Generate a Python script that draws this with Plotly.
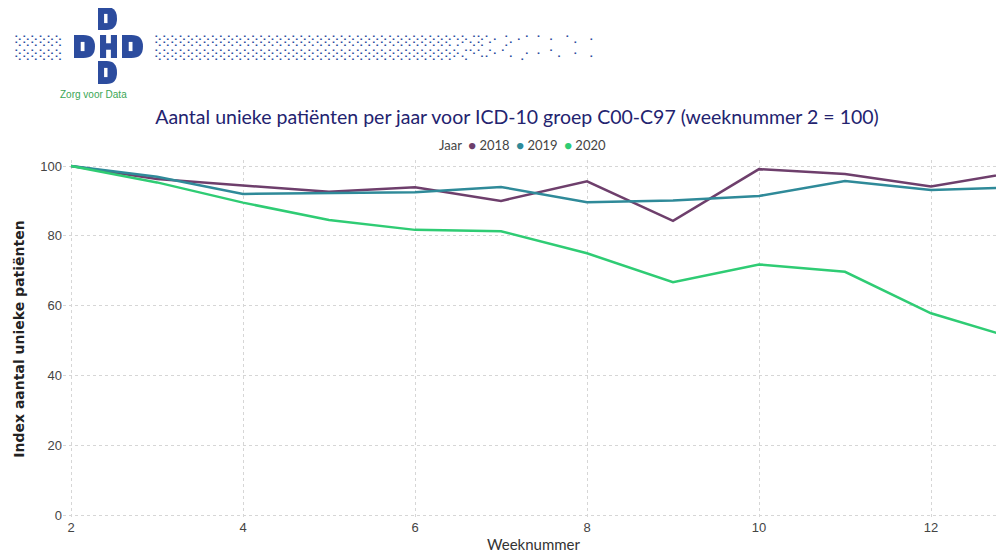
import plotly.graph_objects as go

weeks = [2, 3, 4, 5, 6, 7, 8, 9, 10, 11, 12, 13]
idx_2018 = [100, 96.3, 94.4, 92.6, 93.9, 90.0, 95.6, 84.3, 99.1, 97.7, 94.1, 98.3]
idx_2019 = [100, 96.9, 92.0, 92.2, 92.5, 94.0, 89.6, 90.1, 91.4, 95.7, 93.1, 93.9]
idx_2020 = [100, 95.3, 89.5, 84.5, 81.7, 81.3, 75.0, 66.7, 71.8, 69.7, 57.8, 50.4]
years = ["2018", "2019", "2020"]
colors = ["#6e3f6c", "#2f8a99", "#2fcc74"]
series = [idx_2018, idx_2019, idx_2020]

OFF = 8  # page body margin
W, H = 1004 - OFF, 557 - OFF
# plot area in reference-page pixels
L, R, T, B = 63, 1004, 160, 518

def px(x):
    return (x - L) / (R - L)

def py(y):
    return (B - y) / (B - T)

def P(x, y):
    return "%.5f,%.5f" % (px(x), py(y))

fig = go.Figure()
for yr, col, vals in zip(years, colors, series):
    fig.add_trace(go.Scatter(x=weeks, y=vals, mode="lines", name=yr,
                             line=dict(color=col, width=2.5), showlegend=False))

blue = "#2c4c9e"
shapes = []

def d_shape(x0, y0, w, h):
    path = ("M %s L %s Q %s %s Q %s %s L %s Z" % (
        P(x0, y0), P(x0 + 0.45 * w, y0), P(x0 + w, y0), P(x0 + w, y0 + 0.5 * h),
        P(x0 + w, y0 + h), P(x0 + 0.45 * w, y0 + h), P(x0, y0 + h)))
    shapes.append(dict(type="path", path=path, xref="paper", yref="paper",
                       fillcolor=blue, line=dict(width=0)))
    shapes.append(dict(type="rect", xref="paper", yref="paper",
                       x0=px(x0 + 0.32 * w), x1=px(x0 + 0.5 * w),
                       y0=py(y0 + 0.3 * h), y1=py(y0 + 0.7 * h),
                       fillcolor="white", line=dict(width=0)))

def h_shape(x0, y0, w, h):
    shapes.append(dict(type="rect", xref="paper", yref="paper", x0=px(x0), x1=px(x0 + w),
                       y0=py(y0), y1=py(y0 + h), fillcolor=blue, line=dict(width=0)))
    for a, b in [(y0, y0 + 0.36 * h), (y0 + 0.64 * h, y0 + h)]:
        shapes.append(dict(type="rect", xref="paper", yref="paper",
                           x0=px(x0 + 0.36 * w), x1=px(x0 + 0.64 * w),
                           y0=py(a), y1=py(b), fillcolor="white", line=dict(width=0)))

d_shape(74, 35, 21, 23)
h_shape(100, 35, 17, 23)
d_shape(122, 35, 21, 23)
d_shape(98, 7, 19, 23)
d_shape(98, 61, 19, 23)

ann = []
ann.append(dict(x=px(93), y=py(95), text="Zorg voor Data",
                font=dict(family="Liberation Sans Narrow, Liberation Sans", size=10, color="#3aa655")))
dots_left = "⢕" * 6
dots_right_1 = "⢕" * 37 + "⢑⠕⢌⢕⠡⠂⢈⠄⠂⠁⠈⠀⠂⠀⠁⠄⠀⠂"
dots_right_2 = "⢕" * 37 + "⠕⢌⠑⠡⠌⠂⠁⠄⢀⠂⠐⠀⠁⠄⠀⠂⠀⠄"
ann.append(dict(x=px(12), y=py(47), text=dots_left + "<br>" + dots_left, xanchor="left",
                font=dict(family="DejaVu Sans", size=11, color=blue)))
ann.append(dict(x=px(152), y=py(47), text=dots_right_1 + "<br>" + dots_right_2, xanchor="left",
                font=dict(family="DejaVu Sans", size=11, color=blue)))
leg = "Jaar  " + "  ".join("<span style='color:%s'>●</span> %s" % (c, y) for y, c in zip(years, colors))
ann.append(dict(x=px(522), y=py(145), text=leg, font=dict(family="Lato", size=13, color="#444")))
for a in ann:
    a.setdefault("xanchor", "center")
    a.update(xref="paper", yref="paper", yanchor="middle", showarrow=False)

fig.update_layout(
    width=W, height=H,
    margin=dict(l=L - OFF, r=1004 - R, t=T - OFF, b=557 - B, autoexpand=False),
    paper_bgcolor="white", plot_bgcolor="white",
    title=dict(text="Aantal unieke patiënten per jaar voor ICD-10 groep C00-C97 (weeknummer 2 = 100)",
               x=(517 - OFF) / W, xanchor="center", y=1 - (117 - OFF) / H, yanchor="middle",
               font=dict(family="Lato", size=19.5, color="#23236f")),
    annotations=ann,
    shapes=shapes,
    showlegend=False,
)
fig.update_xaxes(range=[2 - 8 / 86, 2 + (R - 71) / 86], tickvals=[2, 4, 6, 8, 10, 12],
                 showgrid=True, gridcolor="#d6d6d6", griddash="dot", zeroline=False,
                 showline=False, ticks="", automargin=False,
                 tickfont=dict(family="Liberation Sans Narrow, Liberation Sans", size=13, color="#444"),
                 title=dict(text="Weeknummer", font=dict(family="Lato", size=15, color="#333"), standoff=5))
fig.update_yaxes(range=[(515 - B) / 3.49, 100 + (166 - T) / 3.49], tickvals=[0, 20, 40, 60, 80, 100],
                 showgrid=True, gridcolor="#d6d6d6", griddash="dot", zeroline=False,
                 showline=False, ticks="", automargin=False,
                 tickfont=dict(family="Liberation Sans", size=13, color="#444"),
                 title=dict(text="<b>Index aantal unieke patiënten</b>", font=dict(family="DejaVu Sans", size=14, color="#222"), standoff=12))

fig.write_html("out.html")
